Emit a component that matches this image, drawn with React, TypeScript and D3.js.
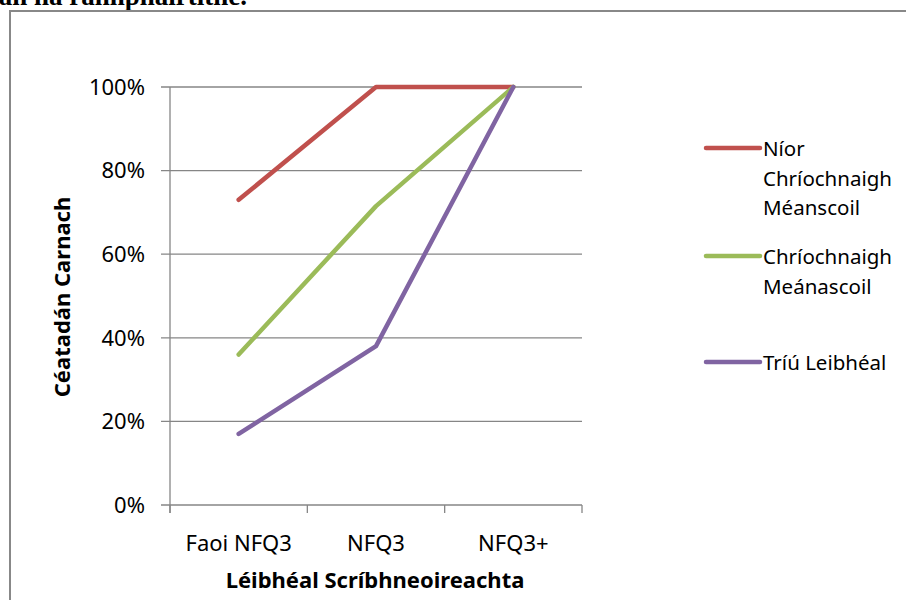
import React from "react";
import * as d3 from "d3";

const categories = ["Faoi NFQ3", "NFQ3", "NFQ3+"];
const seriesNames = [["Níor", "Chríochnaigh", "Méanscoil"], ["Chríochnaigh", "Meánascoil"], ["Tríú Leibhéal"]];
const redValues = [73, 100, 100];
const greenValues = [36, 71.5, 100];
const purpleValues = [17, 38, 100];
const yTicks = [0, 20, 40, 60, 80, 100];
const colors = ["#C0504D", "#9BBB59", "#8064A2"];
const yTitle = "Céatadán Carnach";
const xTitle = "Léibhéal Scríbhneoireachta";
const topText = "an na rannpháirtithe.";

export default function App() {
  const W = 906, H = 600;
  const left = 170, right = 582, top = 87, bottom = 505;
  const x = d3.scaleBand<string>().domain(categories).range([left, right]);
  const y = d3.scaleLinear().domain([0, 100]).range([bottom, top]);
  const line = d3
    .line<number>()
    .x((_, i) => (x(categories[i]) as number) + x.bandwidth() / 2)
    .y((d) => y(d));
  const series = [redValues, greenValues, purpleValues];
  const legendY = [148, 256, 362];
  const font = "'Noto Sans', 'Open Sans', sans-serif";
  const grid = "#868686";
  const ticksX = [left, ...categories.map((c) => (x(c) as number) + x.bandwidth())];

  return (
    <svg width={W} height={H} style={{ position: "absolute", left: 0, top: 0, background: "#fff" }}>
      <text x={247} y={4.5} textAnchor="end" fontFamily="'Liberation Serif', serif" fontWeight="bold" fontSize={27}>
        {topText}
      </text>
      <path d={`M10,${H + 5}V11H${W + 5}`} fill="none" stroke="#888" strokeWidth={2} />
      {yTicks.map((t) => (
        <g key={t}>
          <line x1={left - 9} x2={right} y1={y(t)} y2={y(t)} stroke={grid} strokeWidth={1.3} />
          <text x={left - 25} y={y(t)} dy="0.35em" textAnchor="end" fontFamily={font} fontSize={22}>
            {t}%
          </text>
        </g>
      ))}
      <line x1={left} x2={left} y1={top} y2={bottom + 8} stroke={grid} strokeWidth={1.3} />
      {ticksX.map((tx, i) => (
        <line key={i} x1={tx} x2={tx} y1={bottom} y2={bottom + 8} stroke={grid} strokeWidth={1.3} />
      ))}
      {categories.map((c) => (
        <text key={c} x={(x(c) as number) + x.bandwidth() / 2} y={543} dy="0.35em" textAnchor="middle" fontFamily={font} fontSize={22}>
          {c}
        </text>
      ))}
      {series.map((s, i) => (
        <path key={i} d={line(s) as string} fill="none" stroke={colors[i]} strokeWidth={4.5} strokeLinecap="round" strokeLinejoin="round" />
      ))}
      <text transform={`translate(62,297) rotate(-90)`} textAnchor="middle" dy="0.35em" fontFamily={font} fontWeight="bold" fontSize={22}>
        {yTitle}
      </text>
      <text x={375} y={580} textAnchor="middle" dy="0.35em" fontFamily={font} fontWeight="bold" fontSize={22}>
        {xTitle}
      </text>
      {seriesNames.map((names, i) => (
        <g key={i}>
          <line x1={706} x2={760} y1={legendY[i]} y2={legendY[i]} stroke={colors[i]} strokeWidth={4.5} strokeLinecap="round" />
          {names.map((n, j) => (
            <text key={j} x={763} y={legendY[i] + 1 + j * 29.5} dy="0.35em" fontFamily={font} fontSize={20.5}>
              {n}
            </text>
          ))}
        </g>
      ))}
    </svg>
  );
}
